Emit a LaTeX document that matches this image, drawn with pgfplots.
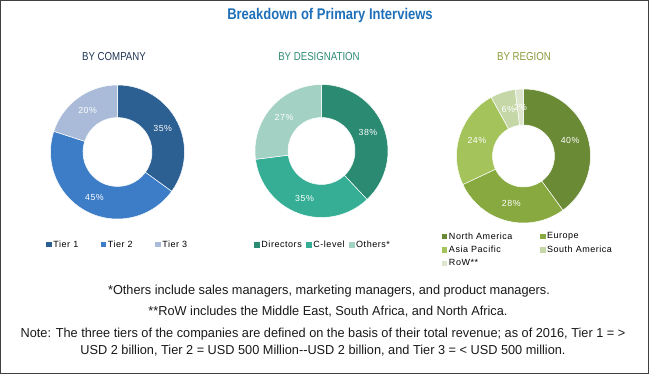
\documentclass[border=0pt]{standalone}
\usepackage{pgfplots}
\pgfplotsset{compat=1.18}
\usepackage{pgfplotstable}
\usepackage{fontspec}
\setmainfont{Liberation Sans}
\newfontfamily\condf[FakeStretch=0.84]{Liberation Sans}
\newfontfamily\footf[FakeStretch=0.98]{Liberation Sans}
\newfontfamily\legf[LetterSpace=6]{Liberation Sans}

\definecolor{cA}{HTML}{2C5F92}
\definecolor{cB}{HTML}{3D7DC8}
\definecolor{cC}{HTML}{A9BBD8}
\definecolor{dA}{HTML}{2B8A72}
\definecolor{dB}{HTML}{35AE95}
\definecolor{dC}{HTML}{A3D2C4}
\definecolor{rA}{HTML}{6B8A36}
\definecolor{rB}{HTML}{87A940}
\definecolor{rC}{HTML}{A4C45B}
\definecolor{rD}{HTML}{C5D7A7}
\definecolor{rE}{HTML}{DDE6CC}
\definecolor{titleblue}{HTML}{1F70B8}
\definecolor{subA}{HTML}{1F3656}
\definecolor{subB}{HTML}{2E8A73}
\definecolor{subC}{HTML}{8A9B3C}

\pgfplotstableread{
label value col
Tier1 35 cA
Tier2 45 cB
Tier3 20 cC
}\companydata
\pgfplotstableread{
label value col
Directors 38 dA
Clevel 35 dB
Others 27 dC
}\designationdata
\pgfplotstableread{
label value col
NorthAmerica 40 rA
Europe 28 rB
AsiaPacific 24 rC
SouthAmerica 6 rD
RoW 2 rE
}\regiondata

\newcommand\donut[3]{%
  \pgfplotstablegetrowsof{#1}%
  \pgfmathtruncatemacro\nrows{\pgfplotsretval-1}%
  \gdef\startang{90}%
  \pgfmathsetmacro\rin{#2}%
  \pgfmathsetmacro\rout{#3}%
  \pgfmathsetmacro\rmid{(#2+#3)/2}%
  \pgfplotsforeachungrouped \i in {0,...,\nrows}{%
    \pgfplotstablegetelem{\i}{value}\of{#1}\let\val\pgfplotsretval
    \pgfplotstablegetelem{\i}{col}\of{#1}\let\col\pgfplotsretval
    \pgfmathsetmacro\endang{\startang-3.6*\val}%
    \pgfmathsetmacro\midang{(\startang+\endang)/2}%
    \fill[fill=\col, draw=white, line width=0.5pt]
      (axis cs:{\rout*cos(\startang)},{\rout*sin(\startang)})
      arc[start angle=\startang, end angle=\endang, radius=\rout pt]
      -- (axis cs:{\rin*cos(\endang)},{\rin*sin(\endang)})
      arc[start angle=\endang, end angle=\startang, radius=\rin pt] -- cycle;
    \node[text=white, font=\legf\fontsize{8.8}{9}\selectfont, inner sep=0pt]
      at (axis cs:{\rmid*cos(\midang)},{\rmid*sin(\midang)}) {\val\%};
    \global\let\startang\endang
  }}

\pgfplotsset{
  donutaxis/.style={
    anchor=center, x=1pt, y=1pt,
    xmin=-70, xmax=70, ymin=-70, ymax=70,
    hide axis, clip=false,
    legend image code/.code={\fill[##1, draw=none] (0pt,-2.8pt) rectangle (5.6pt,2.8pt);},
    legend style={draw=none, fill=none, anchor=north, inner sep=0pt,
      font=\legf\fontsize{9}{10}\selectfont,
      nodes={inner sep=1.5pt}},
    legend cell align=left,
  }
}

\begin{document}
\begin{tikzpicture}
\useasboundingbox (0,0) rectangle (649pt,-374pt);
\draw[black!75, line width=0.8pt] (0.5pt,-0.5pt) rectangle (648.5pt,-373.5pt);

\node[font=\condf\bfseries\fontsize{15.5}{17}\selectfont, text=titleblue] at (330pt,-15pt) {Breakdown of Primary Interviews};
\node[font=\condf\fontsize{11.5}{13}\selectfont, text=subA] at (114pt,-57pt) {BY COMPANY};
\node[font=\condf\fontsize{11.5}{13}\selectfont, text=subB] at (319pt,-57pt) {BY DESIGNATION};
\node[font=\condf\fontsize{11.5}{13}\selectfont, text=subC] at (524pt,-57pt) {BY REGION};

\begin{axis}[donutaxis, at={(117.5pt,-152pt)},
  legend columns=3,
  legend style={at={(0.5,-0.12)}},
  /tikz/every even column/.append style={column sep=21pt}]
  \pgfplotsextra{\donut{\companydata}{34.5}{67}}
  \addlegendimage{fill=cA}\addlegendentry{Tier 1}
  \addlegendimage{fill=cB}\addlegendentry{Tier 2}
  \addlegendimage{fill=cC}\addlegendentry{Tier 3}
\end{axis}

\begin{axis}[donutaxis, at={(321.5pt,-151pt)},
  legend columns=3,
  legend style={at={(0.51,-0.13)}},
  /tikz/every even column/.append style={column sep=3pt}]
  \pgfplotsextra{\donut{\designationdata}{33.5}{66.5}}
  \addlegendimage{fill=dA}\addlegendentry{Directors}
  \addlegendimage{fill=dB}\addlegendentry{C-level}
  \addlegendimage{fill=dC}\addlegendentry{Others*}
\end{axis}

\begin{axis}[donutaxis, at={(523.5pt,-156pt)},
  legend columns=2,
  legend style={at={(0.53,-0.035)}, row sep=2.5pt},
  /tikz/every even column/.append style={column sep=26pt}]
  \pgfplotsextra{\donut{\regiondata}{31}{67}}
  \addlegendimage{fill=rA}\addlegendentry{North America}
  \addlegendimage{fill=rB}\addlegendentry{Europe}
  \addlegendimage{fill=rC}\addlegendentry{Asia Pacific}
  \addlegendimage{fill=rD}\addlegendentry{South America}
  \addlegendimage{fill=rE}\addlegendentry{RoW**}
\end{axis}

\begin{scope}[every node/.style={font=\footf\fontsize{13}{17}\selectfont, text=black!90, align=center}]
\node at (329pt,-291pt) {*Others include sales managers, marketing managers, and product managers.};
\node at (328pt,-312pt) {**RoW includes the Middle East, South Africa, and North Africa.};
\node at (323pt,-342pt) {Note: The three tiers of the companies are defined on the basis of their total revenue; as of 2016, Tier 1 = >\\USD 2 billion, Tier 2 = USD 500 Million--USD 2 billion, and Tier 3 = < USD 500 million.};
\end{scope}
\end{tikzpicture}
\end{document}
